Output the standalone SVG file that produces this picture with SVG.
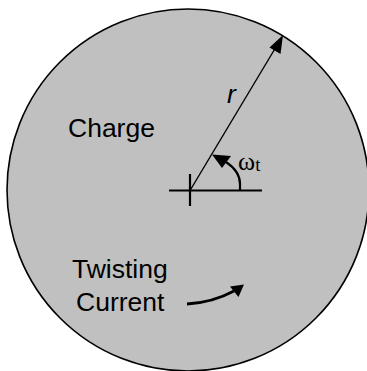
<svg xmlns="http://www.w3.org/2000/svg" width="367" height="371" viewBox="0 0 367 371">
<style>
.lbl{font-family:"Liberation Sans",Arial,sans-serif;font-size:26.5px;fill:#000}
.sym{font-family:"Liberation Serif","Times New Roman",serif;fill:#000}
.thin{stroke:#000;stroke-width:1.4;fill:none}
.thick{stroke:#000;stroke-width:2.2;fill:none}
</style>
<rect width="367" height="371" fill="#fff"/>
<g id="charge-disk">
<circle cx="188" cy="190" r="181" fill="#c0c0c0" stroke="#000" stroke-width="1.6"/>
</g>
<g id="labels">
<text class="lbl" x="68" y="137">Charge</text>
<text class="lbl" x="72" y="278">Twisting</text>
<text class="lbl" x="76" y="311">Current</text>
<text class="lbl" x="227" y="103" font-style="italic">r</text>
<text class="sym" x="238" y="170" font-size="26">ω<tspan font-size="19" dy="1">t</tspan></text>
</g>
<g id="connectors">
<line class="thick" x1="169" y1="190.5" x2="262" y2="190.5"/>
<line class="thick" x1="190" y1="174" x2="190" y2="206"/>
<line class="thin" x1="190" y1="190.5" x2="276" y2="47"/>
<polygon points="283,35 280.5,54 269.5,47.5" fill="#000"/>
<path class="thick" d="M240,190 L240,184 C240,175 235,168 226,162"/>
<polygon points="212,154.5 231,156 222,168" fill="#000"/>
<path d="M187,304 C205,303 221,298 234,291" stroke="#000" stroke-width="2.8" fill="none"/>
<polygon points="244,284.5 238.5,297 230,286.5" fill="#000"/>
</g>
</svg>
